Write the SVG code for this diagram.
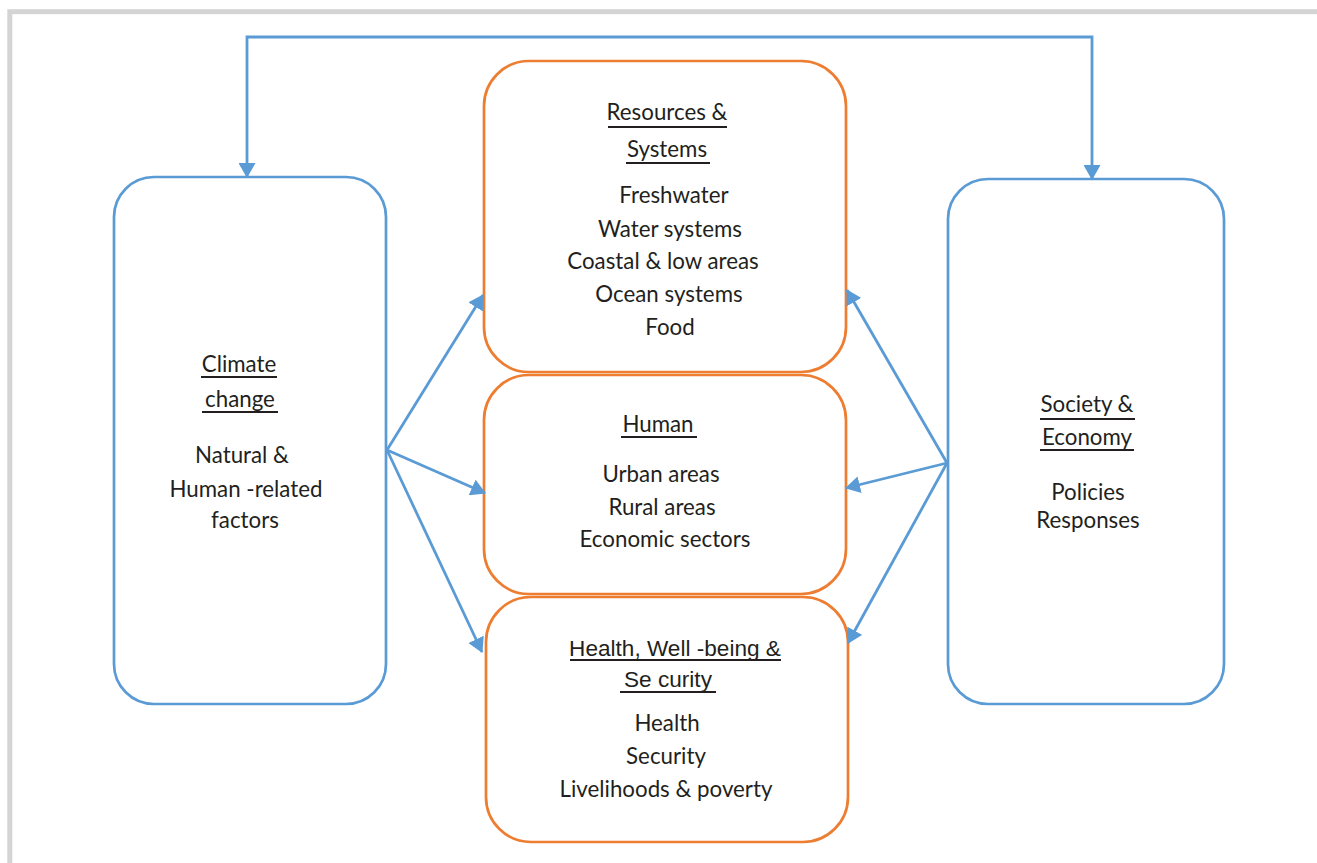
<svg xmlns="http://www.w3.org/2000/svg" width="1317" height="863" viewBox="0 0 1317 863">
<style>
.frame{fill:none;stroke:#d4d4d4;stroke-width:5}
.bbox{fill:#fff;stroke:#5b9bd5;stroke-width:2.7}
.obox{fill:#fff;stroke:#ed7d31;stroke-width:2.7}
.conn{fill:none;stroke:#5b9bd5;stroke-width:2.8}
text{font-family:Lato,"Open Sans",sans-serif;font-size:22.3px;fill:#231f20;text-anchor:middle}
text.ar{font-family:"Liberation Sans",Arial,sans-serif;font-size:22.6px}
.ul{stroke:#231f20;stroke-width:2.2}
</style>
<defs>
<marker id="ah" viewBox="0 0 15 17" refX="14" refY="8.5" markerWidth="15" markerHeight="17" markerUnits="userSpaceOnUse" orient="auto-start-reverse">
<path d="M0,0 L15,8.5 L0,17 z" fill="#5b9bd5"/>
</marker>
</defs>
<rect class="frame" x="9.8" y="11.7" width="1330" height="880"/>

<g id="climate">
<rect class="bbox" x="114" y="177" width="272" height="527" rx="40"/>
<text x="239" y="372">Climate</text>
<line class="ul" x1="201" y1="377" x2="277" y2="377"/>
<text x="240" y="407">change</text>
<line class="ul" x1="202" y1="412" x2="278" y2="412"/>
<text x="242" y="463">Natural &amp;</text>
<text x="246" y="497">Human -related</text>
<text x="245" y="528">factors</text>
</g>

<g id="society">
<rect class="bbox" x="948" y="179" width="276" height="525" rx="40"/>
<text x="1087" y="412">Society &amp;</text>
<line class="ul" x1="1040" y1="419" x2="1135" y2="419"/>
<text x="1087" y="445">Economy</text>
<line class="ul" x1="1040" y1="450" x2="1134" y2="450"/>
<text x="1088" y="500">Policies</text>
<text x="1088" y="528">Responses</text>
</g>

<g id="resources">
<rect class="obox" x="484" y="61" width="362" height="311" rx="45"/>
<text x="667" y="120">Resources &amp;</text>
<line class="ul" x1="608" y1="127" x2="727" y2="127"/>
<text x="667" y="157">Systems</text>
<line class="ul" x1="626" y1="163" x2="710" y2="163"/>
<text x="674" y="203">Freshwater</text>
<text x="670" y="237">Water systems</text>
<text x="663" y="269">Coastal &amp; low areas</text>
<text x="669" y="302">Ocean systems</text>
<text x="670" y="335">Food</text>
</g>

<g id="human">
<rect class="obox" x="484" y="375" width="362" height="219" rx="45"/>
<text x="658" y="432">Human</text>
<line class="ul" x1="621" y1="437" x2="697" y2="437"/>
<text x="661" y="482">Urban areas</text>
<text x="662" y="515">Rural areas</text>
<text x="665" y="547">Economic sectors</text>
</g>

<g id="health">
<rect class="obox" x="486" y="597" width="362" height="245" rx="45"/>
<text class="ar" x="675" y="656">Health, Well -being &amp;</text>
<line class="ul" x1="570" y1="660" x2="781" y2="660"/>
<text class="ar" x="668" y="687">Se curity</text>
<line class="ul" x1="620" y1="692" x2="716" y2="692"/>
<text x="667" y="731">Health</text>
<text x="666" y="764">Security</text>
<text x="666" y="797">Livelihoods &amp; poverty</text>
</g>

<g id="connectors">
<path class="conn" d="M247,177 V37 H1092 V179" marker-start="url(#ah)" marker-end="url(#ah)"/>
<line class="conn" x1="387" y1="450" x2="483" y2="295" marker-end="url(#ah)"/>
<line class="conn" x1="387" y1="450" x2="485" y2="493" marker-end="url(#ah)"/>
<line class="conn" x1="387" y1="450" x2="482" y2="652" marker-end="url(#ah)"/>
<line class="conn" x1="947" y1="463" x2="847" y2="290" marker-end="url(#ah)"/>
<line class="conn" x1="947" y1="463" x2="846" y2="488" marker-end="url(#ah)"/>
<line class="conn" x1="947" y1="463" x2="848" y2="643" marker-end="url(#ah)"/>
</g>
</svg>
